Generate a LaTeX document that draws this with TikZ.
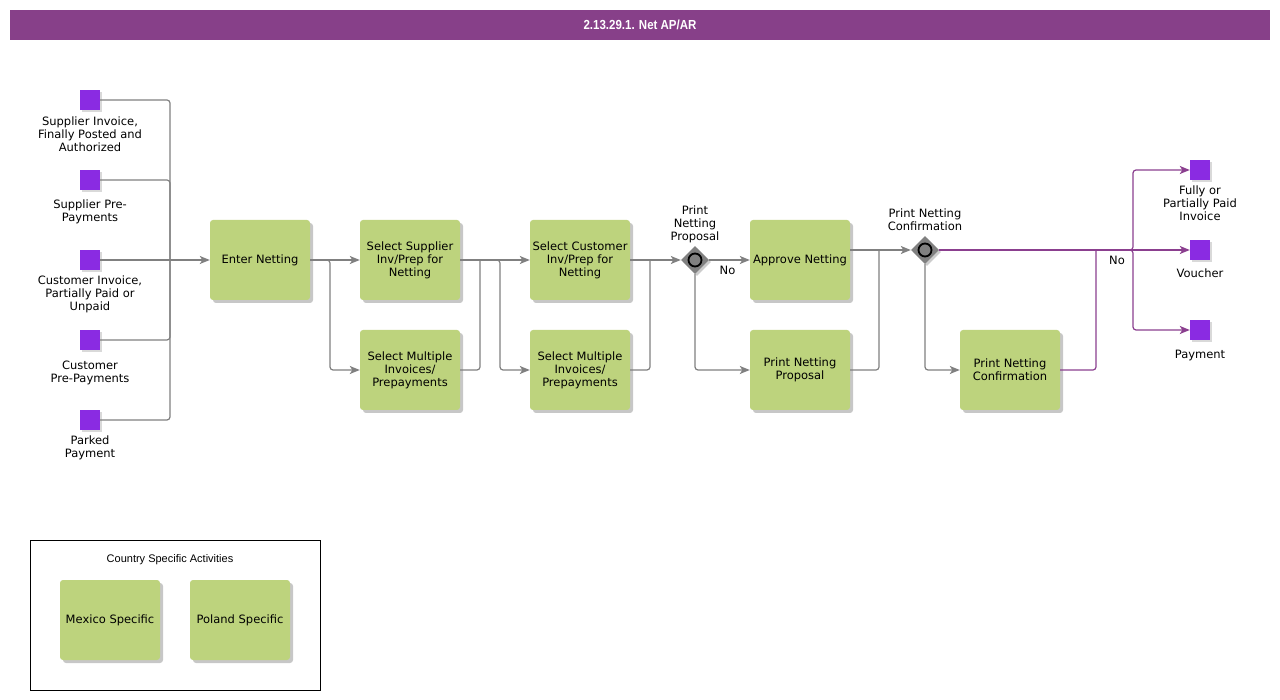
\documentclass[tikz,border=0pt]{standalone}
\usepackage{fontspec}
\setmainfont{DejaVu Sans}
\newfontfamily\lib{Liberation Sans}
\usetikzlibrary{arrows.meta,shapes.geometric,shadows}
\definecolor{actgreen}{HTML}{BDD37D}
\definecolor{ttlpurple}{HTML}{874089}
\definecolor{sqpurple}{HTML}{8A2BE2}
\definecolor{lnpurple}{HTML}{8B3F8F}
\definecolor{lngray}{HTML}{808080}
\tikzset{
  txt/.style={font=\fontsize{11.5}{13}\selectfont, align=center},
  act/.style={txt, rectangle, rounded corners=3pt, fill=actgreen, minimum width=100pt, minimum height=80pt, inner sep=0pt,
    drop shadow={shadow xshift=3pt, shadow yshift=-3pt, fill=black, opacity=0.22}},
  sq/.style={rectangle, fill=sqpurple, minimum size=20pt, inner sep=0pt,
    drop shadow={shadow xshift=2pt, shadow yshift=-2pt, fill=black, opacity=0.15}},
  gw/.style={diamond, fill=lngray, minimum width=28pt, minimum height=28pt, inner sep=0pt,
    drop shadow={shadow xshift=2pt, shadow yshift=-2pt, fill=black, opacity=0.2}},
  gwc/.style={circle, draw=black, line width=1.8pt, fill=lngray, minimum size=13pt, inner sep=0pt},
  lbl/.style={txt, inner sep=0pt, anchor=north},
  ln/.style={draw=lngray, line width=1.2pt, rounded corners=3pt},
  arr/.style={ln, -{Stealth[length=10pt,width=8pt,inset=2.5pt]}},
  pln/.style={draw=lnpurple, line width=1.2pt, rounded corners=3pt},
  parr/.style={pln, -{Stealth[length=10pt,width=8pt,inset=2.5pt]}},
}
\begin{document}
\begin{tikzpicture}[x=1pt,y=-1pt]
\useasboundingbox (0,0) rectangle (1280,700);
% title
\node[fill=ttlpurple, minimum width=1260pt, minimum height=30pt, inner sep=0pt, text=white,
  font=\lib\bfseries\fontsize{12.5}{14}\selectfont] (title) at (640,25) {\scalebox{0.92}[1.05]{2.13.29.1. Net AP/AR}};
% inputs
\node[sq] (s1) at (90,100) {};
\node[sq] (s2) at (90,180) {};
\node[sq] (s3) at (90,260) {};
\node[sq] (s4) at (90,340) {};
\node[sq] (s5) at (90,420) {};
\node[lbl] (l1) at (90,116.5) {Supplier Invoice,\\Finally Posted and\\Authorized};
\node[lbl] (l2) at (90,199.5) {Supplier Pre-\\Payments};
\node[lbl] (l3) at (90,275.5) {Customer Invoice,\\Partially Paid or\\Unpaid};
\node[lbl] (l4) at (90,360.5) {Customer\\Pre-Payments};
\node[lbl] (l5) at (90,435.5) {Parked\\Payment};
% activities
\node[act] (en) at (260,260) {Enter Netting};
\node[act] (ss) at (410,260) {Select Supplier\\Inv/Prep for\\Netting};
\node[act] (sm1) at (410,370) {Select Multiple\\Invoices/\\Prepayments};
\node[act] (sc) at (580,260) {Select Customer\\Inv/Prep for\\Netting};
\node[act] (sm2) at (580,370) {Select Multiple\\Invoices/\\Prepayments};
\node[act] (an) at (800,260) {Approve Netting};
\node[act] (pp) at (800,370) {Print Netting\\Proposal};
\node[act] (pc) at (1010,370) {Print Netting\\Confirmation};
% gateways
\node[gw] (g1) at (695,260) {};
\node[gwc] (g1c) at (695,260) {};
\node[lbl] (g1l) at (695,205.5) {Print\\Netting\\Proposal};
\node[gw] (g2) at (925,250) {};
\node[gwc] (g2c) at (925,250) {};
\node[lbl] (g2l) at (925,208.5) {Print Netting\\Confirmation};
% outputs
\node[sq] (o1) at (1200,170) {};
\node[sq] (o2) at (1200,250) {};
\node[sq] (o3) at (1200,330) {};
\node[lbl] (ol1) at (1200,185.5) {Fully or\\Partially Paid\\Invoice};
\node[lbl] (ol2) at (1200,268.5) {Voucher};
\node[lbl] (ol3) at (1200,349.5) {Payment};
% junction points
\coordinate (m) at (170,260);
\coordinate (j1) at (330,260);
\coordinate (j2) at (480,260);
\coordinate (j3) at (500,260);
\coordinate (j4) at (650,260);
\coordinate (j5) at (879,250);
\coordinate (j6) at (1133,250);
\coordinate (j7) at (1096,250);
% connectors
\draw[ln] (s1.east) -| (m);
\draw[ln] (s2.east) -| (m);
\draw[ln] (s4.east) -| (m);
\draw[ln] (s5.east) -| (m);
\draw[arr] (s3.east) -- (en.west);
\draw[arr] (en.east) -- (ss.west);
\draw[arr] (en.east) -- (j1) |- (sm1.west);
\draw[arr] (ss.east) -- (sc.west);
\draw[ln] (sm1.east) -| (j2);
\draw[arr] (ss.east) -- (j3) |- (sm2.west);
\draw[arr] (sc.east) -- (g1.west);
\draw[ln] (sm2.east) -| (j4);
\draw[arr] (g1.east) -- (an.west) node[txt, pos=0.45, below=2pt] (no1) {No};
\draw[arr] (g1.south) |- (pp.west);
\draw[arr] (an.east |- g2.west) -- (g2.west);
\draw[ln] (pp.east) -| (j5);
\draw[arr] (g2.south) |- (pc.west);
\draw[parr] (g2.east) -- (o2.west);
\draw[parr] (g2.east) -- (j6) |- (o1.west);
\draw[parr] (g2.east) -- (j6) |- (o3.west);
\draw[pln] (pc.east) -| (j7);
\node[txt] (no2) at (1117,260) {No};
% legend
\node[draw=black, line width=0.8pt, minimum width=290pt, minimum height=150pt, inner sep=0pt] (leg) at (175,615) {};
\node[font=\lib\fontsize{11}{13}\selectfont] (legt) at (170,560) {Country Specific Activities};
\node[act] (mx) at (110,620) {Mexico Specific};
\node[act] (pl) at (240,620) {Poland Specific};
\end{tikzpicture}
\end{document}
